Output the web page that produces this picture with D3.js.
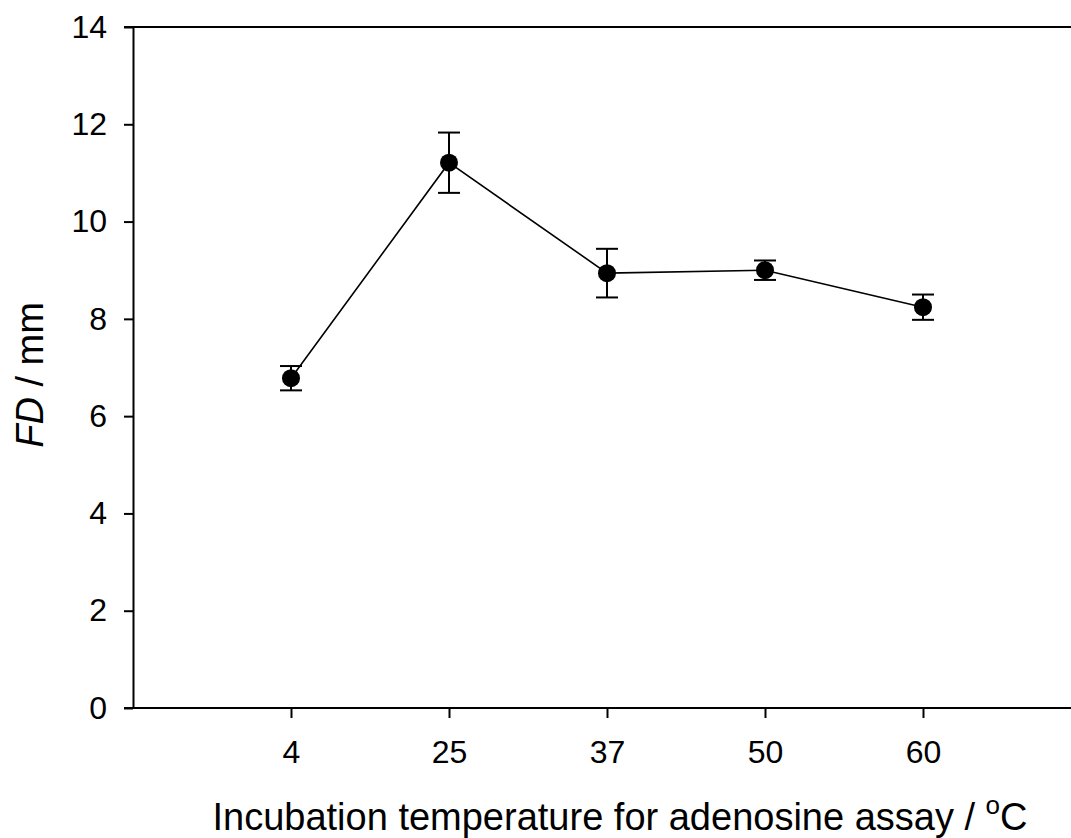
<!DOCTYPE html>
<html lang="en">
<head>
<meta charset="UTF-8">
<title>FD vs incubation temperature</title>
<script src="https://d3js.org/d3.v7.min.js"></script>
<style>
	body { margin: 0; background: #fff; }
	svg text { font-family: "Liberation Sans", Arial, sans-serif; fill: #000; }
</style>
</head>
<body>
<div id="chart"></div>
<script>
	// data
	const temps = ["4", "25", "37", "50", "60"];
	const fd = [6.78, 11.21, 8.94, 9.00, 8.24];
	const fdErr = [0.25, 0.62, 0.50, 0.20, 0.26];
	const yTicks = [0, 2, 4, 6, 8, 10, 12, 14];

	const W = 1071, H = 838;
	const plotLeft = 133, plotTop = 27, plotBottom = 708;

	const svg = d3.select("#chart").append("svg")
		.attr("width", W)
		.attr("height", H);

	const x = d3.scalePoint()
		.domain(temps)
		.range([plotLeft, plotLeft + 158 * 6])
		.padding(1);

	const y = d3.scaleLinear()
		.domain([0, 14])
		.range([plotBottom, plotTop]);

	// top frame line
	svg.append("line")
		.attr("x1", plotLeft - 9).attr("x2", W)
		.attr("y1", y(14)).attr("y2", y(14))
		.attr("stroke", "#000").attr("stroke-width", 2);

	// y axis
	const yAxis = svg.append("g")
		.attr("transform", `translate(${plotLeft},0)`)
		.call(d3.axisLeft(y).tickValues(yTicks).tickSize(9).tickPadding(17).tickSizeOuter(0));
	yAxis.selectAll("text").style("font-size", "32px");

	// x axis
	const xAxis = svg.append("g")
		.attr("transform", `translate(0,${plotBottom})`)
		.call(d3.axisBottom(x).tickSize(10).tickPadding(22).tickSizeOuter(0));
	xAxis.select(".domain").attr("d", `M${plotLeft - 9},0H${W}`);
	xAxis.selectAll("text").style("font-size", "32px");

	svg.selectAll(".domain, .tick line").attr("stroke", "#000").attr("stroke-width", 2);

	// line
	const line = d3.line()
		.x((d, i) => x(temps[i]))
		.y(d => y(d));
	svg.append("path")
		.datum(fd)
		.attr("d", line)
		.attr("fill", "none")
		.attr("stroke", "#000")
		.attr("stroke-width", 1.6);

	// error bars
	const eb = svg.append("g").attr("stroke", "#000").attr("stroke-width", 2);
	fd.forEach((v, i) => {
		const cx = x(temps[i]);
		eb.append("line").attr("x1", cx).attr("x2", cx)
			.attr("y1", y(v - fdErr[i])).attr("y2", y(v + fdErr[i]));
		[v - fdErr[i], v + fdErr[i]].forEach(e => {
			eb.append("line").attr("x1", cx - 11).attr("x2", cx + 11)
				.attr("y1", y(e)).attr("y2", y(e));
		});
	});

	// markers
	svg.selectAll("circle")
		.data(fd)
		.join("circle")
		.attr("cx", (d, i) => x(temps[i]))
		.attr("cy", d => y(d))
		.attr("r", 9)
		.attr("fill", "#000");

	// axis titles
	svg.append("text")
		.attr("x", 620)
		.attr("y", 830)
		.attr("text-anchor", "middle")
		.style("font-size", "38px")
		.html('Incubation temperature for adenosine assay / <tspan dy="-16" font-size="26">o</tspan><tspan dy="16">C</tspan>');

	svg.append("text")
		.attr("transform", `translate(43,375) rotate(-90)`)
		.attr("text-anchor", "middle")
		.style("font-size", "38px")
		.html('<tspan font-style="italic">FD</tspan> / mm');
</script>
</body>
</html>
